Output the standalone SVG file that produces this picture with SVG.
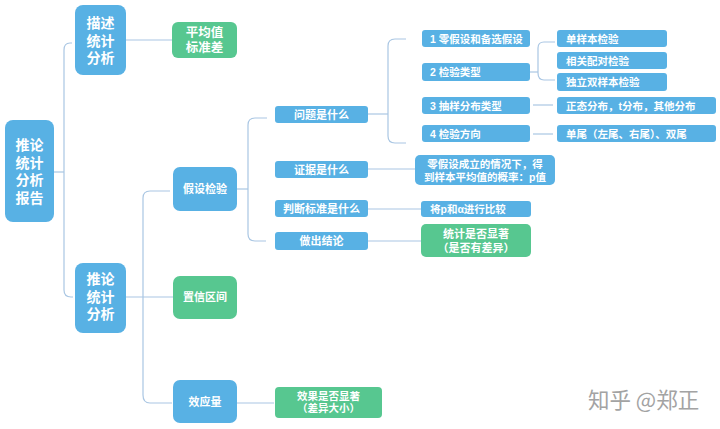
<svg xmlns="http://www.w3.org/2000/svg" width="720" height="429" viewBox="0 0 720 429">
<style>
.b{fill:#58b1e4}
.g{fill:#57c790}
.t{fill:#fff;font-family:"Liberation Sans","Noto Sans CJK SC",sans-serif;font-weight:bold;text-anchor:middle}
.l{text-anchor:start}
.f14{font-size:14px}
.f13{font-size:12.5px}
.f11{font-size:11px}
.f10{font-size:10.5px}
.c{fill:none;stroke:#a9c6e3;stroke-width:1.2}
</style>
<rect width="720" height="429" fill="#fff"/>
<g id="connectors">
<path class="c" d="M54 172H64"/>
<path class="c" d="M72 43H70Q64 43 64 50V290Q64 297 71 297H73"/>
<path class="c" d="M126 40H172"/>
<path class="c" d="M126 297H173"/>
<path class="c" d="M170 191H150Q143 191 143 198V395Q143 403 150 403H172"/>
<path class="c" d="M237 403H274"/>
<path class="c" d="M237 189H248"/>
<path class="c" d="M267 118H255Q248 118 248 125V234Q248 241 255 241H266"/>
<path class="c" d="M368 114H388"/>
<path class="c" d="M406 39H395Q388 39 388 46V136Q388 143 395 143H406"/>
<path class="c" d="M530 72H538"/>
<path class="c" d="M555 42H544Q538 42 538 48V73Q538 80 544 80H555"/>
<path class="c" d="M533 105H553"/>
<path class="c" d="M533 134H553"/>
<path class="c" d="M368 169H415"/>
<path class="c" d="M368 209H421"/>
<path class="c" d="M368 241H421"/>
</g>
<g id="root">
<rect class="b" x="5" y="120" width="49" height="102" rx="8"/>
<text class="t f14"><tspan x="29.5" y="150">推论</tspan><tspan x="29.5" y="167.5">统计</tspan><tspan x="29.5" y="185">分析</tspan><tspan x="29.5" y="202.5">报告</tspan></text>
</g>
<g id="desc">
<rect class="b" x="75" y="5" width="51" height="70" rx="8"/>
<text class="t f14"><tspan x="100.5" y="28">描述</tspan><tspan x="100.5" y="45.5">统计</tspan><tspan x="100.5" y="63">分析</tspan></text>
</g>
<g id="mean">
<rect class="g" x="172" y="22" width="65" height="36" rx="6"/>
<text class="t f13"><tspan x="204.5" y="37">平均值</tspan><tspan x="204.5" y="51.5">标准差</tspan></text>
</g>
<g id="inf">
<rect class="b" x="75" y="263" width="51" height="70" rx="8"/>
<text class="t f14"><tspan x="100.5" y="284">推论</tspan><tspan x="100.5" y="301.5">统计</tspan><tspan x="100.5" y="319">分析</tspan></text>
</g>
<g id="hyp">
<rect class="b" x="173" y="167" width="64" height="44" rx="7"/>
<text class="t f11" x="205" y="193">假设检验</text>
</g>
<g id="ci">
<rect class="g" x="173" y="276" width="64" height="43" rx="7"/>
<text class="t f11" x="205" y="301">置信区间</text>
</g>
<g id="eff">
<rect class="b" x="173" y="380" width="64" height="43" rx="7"/>
<text class="t f11" x="205" y="406">效应量</text>
</g>
<g id="effres">
<rect class="g" x="275" y="387" width="107" height="31" rx="4"/>
<text class="t f10"><tspan x="328.5" y="399.5">效果是否显著</tspan><tspan x="328.5" y="412">（差异大小）</tspan></text>
</g>
<g id="q1">
<rect class="b" x="275" y="106" width="93" height="17" rx="3"/>
<text class="t f11" x="321.5" y="118.5">问题是什么</text>
</g>
<g id="q2">
<rect class="b" x="275" y="161" width="93" height="17" rx="3"/>
<text class="t f11" x="321.5" y="173.5">证据是什么</text>
</g>
<g id="q3">
<rect class="b" x="275" y="200" width="93" height="17" rx="3"/>
<text class="t f11" x="321.5" y="212.5">判断标准是什么</text>
</g>
<g id="q4">
<rect class="b" x="275" y="232" width="93" height="18" rx="3"/>
<text class="t f11" x="321.5" y="245">做出结论</text>
</g>
<g id="c1">
<rect class="b" x="422" y="30" width="108" height="17" rx="3"/>
<text class="t f10 l" x="430" y="42.5">1 零假设和备选假设</text>
</g>
<g id="c2">
<rect class="b" x="422" y="63" width="108" height="18" rx="3"/>
<text class="t f10 l" x="430" y="76">2 检验类型</text>
</g>
<g id="c3">
<rect class="b" x="422" y="97" width="108" height="17" rx="3"/>
<text class="t f10 l" x="430" y="109.5">3 抽样分布类型</text>
</g>
<g id="c4">
<rect class="b" x="422" y="125" width="108" height="17" rx="3"/>
<text class="t f10 l" x="430" y="137.5">4 检验方向</text>
</g>
<g id="d1">
<rect class="b" x="557" y="30" width="110" height="17" rx="3"/>
<text class="t f10 l" x="566" y="42.5">单样本检验</text>
</g>
<g id="d2">
<rect class="b" x="557" y="52" width="110" height="17" rx="3"/>
<text class="t f10 l" x="566" y="64.5">相关配对检验</text>
</g>
<g id="d3">
<rect class="b" x="557" y="73" width="110" height="18" rx="3"/>
<text class="t f10 l" x="566" y="86">独立双样本检验</text>
</g>
<g id="d4">
<rect class="b" x="557" y="97" width="159" height="17" rx="3"/>
<text class="t f10 l" x="566" y="109.5">正态分布，t分布，其他分布</text>
</g>
<g id="d5">
<rect class="b" x="557" y="125" width="159" height="17" rx="3"/>
<text class="t f10 l" x="566" y="137.5">单尾（左尾、右尾）、双尾</text>
</g>
<g id="e1">
<rect class="b" x="415" y="155" width="140" height="30" rx="5"/>
<text class="t f10"><tspan x="485" y="167.5">零假设成立的情况下，得</tspan><tspan x="485" y="180.5">到样本平均值的概率：p值</tspan></text>
</g>
<g id="e2">
<rect class="b" x="421" y="201" width="110" height="16" rx="3"/>
<text class="t f10 l" x="430" y="213">将p和α进行比较</text>
</g>
<g id="e3">
<rect class="g" x="421" y="224" width="110" height="33" rx="5"/>
<text class="t f11"><tspan x="476" y="238">统计是否显著</tspan><tspan x="476" y="251.5">（是否有差异）</tspan></text>
</g>
<text x="588" y="408" font-family="'Noto Sans CJK SC','Noto Sans',sans-serif" font-size="21.5" fill="#a3a3a3">知乎 @郑正</text>
</svg>
